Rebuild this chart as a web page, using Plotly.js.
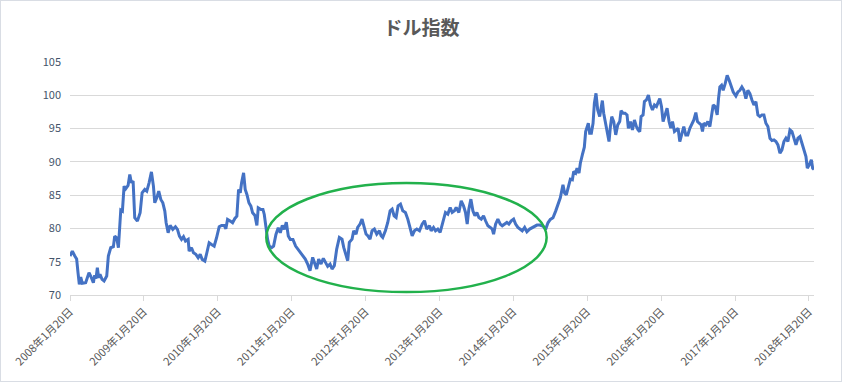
<!DOCTYPE html>
<html>
<head>
<meta charset="utf-8">
<script src="https://cdn.plot.ly/plotly-3.0.1.min.js"></script>
<style>
  html, body { margin: 0; padding: 0; background: #ffffff; }
  #chart { position: absolute; left: 0; top: 0; width: 843px; height: 383px; }
  #frame { position: absolute; left: 0; top: 0; width: 842px; height: 382px; border: 1px solid #D9DDE4; box-sizing: border-box; pointer-events: none; }
</style>
</head>
<body>
<div id="chart"></div>
<div id="frame"></div>
<script>
// Title
const chartTitle = '<b>ドル指数</b>';

// Time (decimal years)
const years = [2008.050,2008.082,2008.113,2008.140,2008.158,2008.176,2008.195,2008.217,2008.262,2008.307,2008.330,2008.366,2008.384,2008.402,2008.420,2008.438,2008.456,2008.484,2008.511,2008.547,2008.569,2008.601,2008.637,2008.655,2008.682,2008.705,2008.737,2008.759,2008.782,2008.804,2008.836,2008.859,2008.881,2008.904,2008.926,2008.962,2008.999,2009.026,2009.062,2009.089,2009.120,2009.152,2009.179,2009.197,2009.224,2009.251,2009.279,2009.306,2009.333,2009.351,2009.378,2009.405,2009.441,2009.477,2009.504,2009.531,2009.559,2009.586,2009.613,2009.649,
2009.662,2009.694,2009.721,2009.753,2009.784,2009.812,2009.839,2009.875,2009.902,2009.933,2009.965,2010.001,2010.033,2010.069,2010.101,2010.137,2010.159,2010.182,2010.218,2010.250,2010.281,2010.308,2010.331,2010.354,2010.372,2010.399,2010.421,2010.444,2010.471,2010.498,2010.521,2010.552,2010.579,2010.597,2010.634,2010.661,2010.679,2010.697,2010.724,2010.746,2010.778,2010.805,2010.837,2010.868,2010.896,2010.923,2010.950,2010.977,2011.004,2011.031,2011.067,2011.103,2011.139,
2011.198,2011.234,2011.266,2011.298,2011.334,2011.356,2011.388,2011.415,2011.447,2011.478,2011.505,2011.537,2011.569,2011.596,2011.627,2011.659,2011.695,2011.731,2011.754,2011.776,2011.808,2011.830,2011.867,2011.889,2011.921,2011.943,2011.975,2012.002,2012.034,2012.056,2012.079,2012.110,2012.138,2012.169,2012.201,2012.237,2012.260,2012.282,2012.318,2012.350,2012.382,2012.409,2012.436,2012.463,2012.490,2012.522,2012.553,2012.589,2012.621,2012.653,2012.680,2012.711,2012.743,2012.779,
2012.815,2012.847,2012.878,2012.915,2012.937,2012.969,2012.996,2013.027,2013.059,2013.095,2013.131,2013.163,2013.195,2013.222,2013.253,2013.276,2013.312,2013.344,2013.375,2013.402,2013.425,2013.447,2013.475,2013.502,2013.529,2013.556,2013.583,2013.615,2013.646,2013.673,2013.705,2013.737,2013.764,2013.782,2013.809,2013.840,2013.872,2013.899,2013.931,2013.962,2013.989,2014.021,2014.053,2014.080,2014.111,2014.143,2014.170,2014.202,2014.233,2014.270,2014.306,2014.337,2014.369,2014.405,
2014.450,2014.486,2014.518,2014.550,2014.586,2014.622,2014.653,2014.685,2014.721,2014.744,2014.766,2014.793,2014.821,2014.848,2014.866,2014.893,2014.911,2014.938,2014.956,2014.983,2015.010,2015.028,2015.046,2015.064,2015.082,2015.105,2015.128,2015.146,2015.168,2015.191,2015.218,2015.236,2015.254,2015.272,2015.299,2015.326,2015.344,2015.363,2015.381,2015.408,2015.435,2015.462,2015.489,2015.507,2015.534,2015.561,2015.588,2015.606,2015.634,2015.661,2015.688,2015.715,2015.737,2015.760,2015.778,2015.805,2015.823,2015.850,2015.877,2015.905,2015.932,2015.959,2015.986,2016.013,
2016.031,2016.054,2016.076,2016.103,2016.130,2016.157,2016.180,2016.203,2016.230,2016.257,2016.279,2016.302,2016.329,2016.356,2016.383,2016.410,2016.438,2016.465,2016.492,2016.519,2016.541,2016.564,2016.591,2016.609,2016.627,2016.654,2016.681,2016.709,2016.731,2016.754,2016.781,2016.808,2016.826,2016.844,2016.867,2016.889,2016.916,2016.943,2016.970,2016.998,2017.025,2017.061,2017.088,2017.115,2017.142,2017.169,2017.196,2017.223,2017.251,2017.278,2017.305,2017.332,2017.359,2017.386,2017.413,2017.440,2017.467,2017.494,2017.522,2017.549,2017.576,2017.603,2017.630,2017.657,2017.684,2017.711,2017.738,2017.765,2017.793,2017.820,2017.847,2017.874,2017.901,2017.928,2017.955,2017.982,2018.009,2018.027,2018.054,2018.082,2018.100,2018.118];

// Dollar index values
const dollarIndex = [75.85,76.6,75.9,75.4,73.4,71.6,72.7,71.75,71.85,73.35,72.85,71.85,72.95,72.45,74.1,72.6,73.1,72.35,72.1,72.85,75.85,77.1,77.25,78.85,78.6,77.1,82.75,82.6,86.35,85.95,86.45,88.1,86.85,87.1,81.6,81.1,82.35,85.35,85.85,85.6,86.85,88.5,86.35,83.85,84.6,85.6,84.35,83.85,82.6,80.85,79.35,80.45,79.85,80.25,79.85,78.85,78.35,78.75,78.1,78.35,
76.6,77.1,76.35,76.1,75.6,76.1,75.35,75.1,76.35,77.85,77.6,77.35,78.6,80.25,80.45,80.45,79.95,81.35,81.1,80.85,81.5,81.85,85.85,85.35,86.85,88.35,85.85,85.1,83.85,83.35,82.35,81.95,80.45,83.1,82.85,82.85,82.1,80.35,78.35,77.35,77.1,77.35,79.1,80.1,79.35,80.45,79.85,80.95,78.85,78.35,78.35,77.35,76.85,
75.9,75.4,74.65,73.65,75.65,74.9,73.9,75.4,74.65,75.5,74.9,74.3,74.65,73.9,74.4,76.9,78.65,78.4,77.15,76.15,75.15,77.9,78.4,79.65,79.15,80.15,80.65,81.4,79.9,79.15,78.9,78.4,79.65,79.9,79.15,79.65,78.9,78.65,79.65,80.9,82.65,82.9,81.9,81.65,83.4,83.65,82.65,82.4,81.4,80.15,78.9,79.65,79.9,79.65,
80.65,81.15,79.9,80.4,79.65,80.15,79.65,79.9,79.4,80.9,82.4,82.15,83.15,82.4,82.65,83.15,82.4,84.15,83.4,82.4,80.65,82.9,84.4,82.65,81.9,82.4,81.65,81.4,81.9,81.15,80.4,80.15,79.9,79.15,80.65,81.4,80.65,80.4,80.65,80.9,80.65,81.15,81.4,80.65,80.15,79.9,79.65,80.15,79.5,79.9,80.15,80.4,80.5,80.5,
80.35,79.85,80.85,81.35,81.6,82.6,83.6,84.6,86.55,85.3,85.05,86.05,87.4,87.3,88.55,88.3,89.05,88.3,89.8,91.05,92.2,94.55,95.05,95.8,94.3,94.3,95.8,98.8,100.3,97.8,96.8,97.8,99.2,97.3,95.55,94.05,93.05,95.3,96.8,96.05,94.05,95.55,96.05,97.7,97.3,97.3,97.05,95.05,96.05,94.8,96.3,95.3,94.8,94.55,96.8,97.05,99.05,99.3,100.05,98.55,97.8,98.55,98.3,99.05,
99.5,98.3,96.05,97.05,98.05,96.05,95.05,96.05,94.55,94.8,95.05,93.05,94.05,95.3,94.05,94.05,95.05,95.8,96.3,97.4,96.05,95.8,95.55,94.55,95.8,95.55,96.05,95.3,97.3,98.55,98.3,97.05,99.5,101.25,101.5,100.75,101.75,103.0,102.25,101.25,100.5,99.9,100.5,100.75,101.25,100.75,99.5,100.75,100.25,99.3,98.55,99.05,97.05,96.8,97.05,97.05,95.8,95.3,93.55,93.2,93.3,93.05,92.55,91.3,91.8,93.05,93.55,93.05,94.8,94.55,93.55,92.55,93.55,93.8,92.8,91.8,90.8,89.05,89.55,90.3,89.05,88.85];

// X tick positions (decimal years) and labels
const tickYears = [2008.05,2009.05,2010.05,2011.05,2012.05,2013.05,2014.05,2015.05,2016.05,2017.05,2018.05];
const tickLabels = ['2008年1月20日','2009年1月20日','2010年1月20日','2011年1月20日','2012年1月20日','2013年1月20日','2014年1月20日','2015年1月20日','2016年1月20日','2017年1月20日','2018年1月20日'];

const fontFamily = '"Noto Sans CJK JP", "Noto Sans", sans-serif';

const trace = {
  type: 'scatter',
  mode: 'lines',
  x: years,
  y: dollarIndex,
  line: { color: '#4472C4', width: 3, shape: 'linear' },
  hoverinfo: 'skip',
  showlegend: false
};

const layout = {
  width: 843,
  height: 383,
  margin: { l: 70, r: 29, t: 62, b: 88, pad: 0 },
  paper_bgcolor: '#ffffff',
  plot_bgcolor: '#ffffff',
  font: { family: fontFamily, color: '#595959', size: 11 },
  title: {
    text: chartTitle,
    font: { family: fontFamily, size: 19, color: '#595959' },
    x: 0.5, xref: 'container', xanchor: 'center',
    y: 0.925, yref: 'container', yanchor: 'middle'
  },
  xaxis: {
    type: 'linear',
    range: [years[0], years[years.length - 1]],
    tickmode: 'array',
    tickvals: tickYears,
    ticktext: tickLabels,
    tickangle: -45,
    tickfont: { family: fontFamily, size: 11, color: '#595959' },
    showgrid: false,
    zeroline: false,
    showline: true,
    linecolor: '#D9D9D9',
    linewidth: 1,
    ticks: 'outside',
    ticklen: 5,
    tickcolor: '#D9D9D9',
    tickwidth: 1
  },
  yaxis: {
    range: [70, 105],
    dtick: 5,
    tick0: 70,
    tickfont: { family: fontFamily, size: 11, color: '#44546A' },
    showgrid: true,
    gridcolor: '#D9D9D9',
    gridwidth: 1,
    zeroline: false,
    showline: false,
    ticks: '',
    ticklabelstandoff: 8
  },
  shapes: [{
    type: 'circle',
    xref: 'x', yref: 'y',
    x0: 2010.706, x1: 2014.50,
    y0: 70.45, y1: 86.82,
    line: { color: '#22B14C', width: 2.5 },
    fillcolor: 'rgba(0,0,0,0)',
    layer: 'above'
  }]
};

Plotly.newPlot('chart', [trace], layout, { displayModeBar: false, staticPlot: true });
</script>
</body>
</html>
